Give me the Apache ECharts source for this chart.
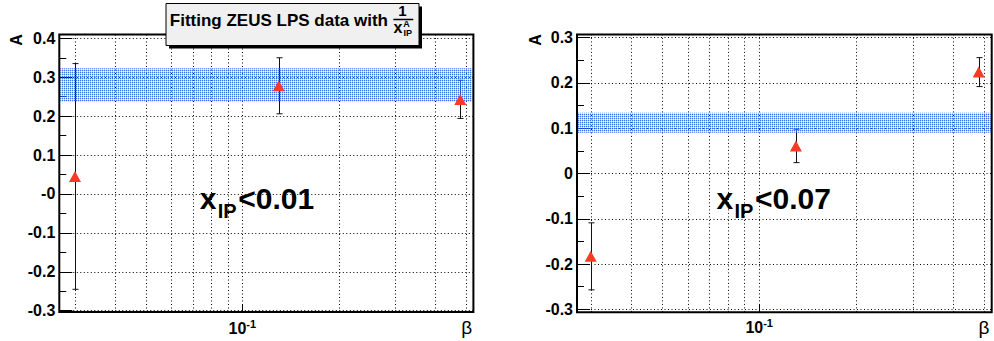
<!DOCTYPE html>
<html><head><meta charset="utf-8">
<script src="https://cdn.jsdelivr.net/npm/echarts@6/dist/echarts.min.js"></script>
<style>html,body{margin:0;padding:0;background:#fff}#c{width:994px;height:341px}</style>
</head><body><div id="c"></div>
<script>
// ---------- data ----------
const betaL = [0.03, 0.13, 0.48];
const aL    = [0.045, 0.278, 0.243];
const errL  = [0.29, 0.072, 0.049];
const bandL = [0.237, 0.323];

const betaR = [0.03, 0.13, 0.48];
const aR    = [-0.183, 0.061, 0.224];
const errR  = [0.074, 0.037, 0.032];
const bandR = [0.090, 0.134];

const gridBeta = [0.03, 0.04, 0.05, 0.06, 0.07, 0.08, 0.09, 0.1, 0.2, 0.3, 0.4, 0.5];
const yLabelsL = ['-0.3', '-0.2', '-0.1', '-0', '0.1', '0.2', '0.3', '0.4'];
const yLabelsR = ['-0.3', '-0.2', '-0.1', '0', '0.1', '0.2', '0.3'];
const noteL = '<0.01';
const noteR = '<0.07';
const titleText = 'Fitting ZEUS LPS data with';

// ---------- layout ----------
const FONT = "'Liberation Sans', Arial, Helvetica, sans-serif";
const panels = [
  { frame: {l: 59.3, r: 473.4, t: 34.5, b: 312},
    grid: {left: 59.3, top: 38.3, width: 414.1, height: 272.4},
    xmin: 0.0268, xmax: 0.5275, ymin: -0.3, ymax: 0.4, labels: yLabelsL,
    beta: betaL, a: aL, err: errL, band: bandL, note: noteL, dx: 0, ax: 16, bx: 466.7 },
  { frame: {l: 577, r: 991.7, t: 34.4, b: 312.3},
    grid: {left: 577, top: 37.7, width: 414.7, height: 271.6},
    xmin: 0.0272, xmax: 0.5267, ymin: -0.3, ymax: 0.3, labels: yLabelsR,
    beta: betaR, a: aR, err: errR, band: bandR, note: noteR, dx: 516.7, ax: 535, bx: 984 }
];

function makePattern() {
  const c = document.createElement('canvas');
  c.width = 4; c.height = 4;
  const g = c.getContext('2d');
  const D = 'rgba(40,100,232,0.9)', L = 'rgba(110,155,240,0.45)';
  const map = ['DLDL', 'L.L.', 'DLDL', 'L.L.'];
  for (let r = 0; r < 4; r++) for (let q = 0; q < 4; q++) {
    const ch = map[r][q];
    if (ch === '.') continue;
    g.fillStyle = ch === 'D' ? D : L;
    g.fillRect(q, r, 1, 1);
  }
  return c;
}
const patCanvas = makePattern();
const bandFill = { image: patCanvas, repeat: 'repeat', imageWidth: 4, imageHeight: 4 };

const chart = echarts.init(document.getElementById('c'), null, {renderer: 'svg'});

const grids = [], xAxes = [], yAxes = [], series = [], graphics = [];

panels.forEach((p, i) => {
  const f = p.frame;
  grids.push(Object.assign({containLabel: false}, p.grid));
  xAxes.push({
    type: 'log', logBase: 10, gridIndex: i, min: p.xmin, max: p.xmax,
    axisLine: {show: false}, axisTick: {show: false}, splitLine: {show: false},
    axisLabel: {
      showMinLabel: false, showMaxLabel: false, margin: 8,
      formatter: v => Math.abs(Math.log10(v) + 1) < 1e-6 ? '{b|10}{s|-1}' : '',
      rich: {
        b: {fontFamily: FONT, fontWeight: 'bold', fontSize: 16, color: '#000', lineHeight: 20},
        s: {fontFamily: FONT, fontWeight: 'bold', fontSize: 11, color: '#000', verticalAlign: 'top', lineHeight: 11}
      }
    }
  });
  yAxes.push({
    type: 'value', gridIndex: i, min: p.ymin, max: p.ymax, interval: 0.1,
    axisLine: {show: false},
    axisTick: {show: true, inside: true, length: 13, lineStyle: {color: '#000', width: 1}},
    minorTick: {show: true, splitNumber: 2, length: 7, lineStyle: {color: '#000', width: 1}},
    splitLine: {show: true, lineStyle: {color: '#000', width: 1, type: [1, 2.5]}},
    axisLabel: {
      margin: 4, color: '#000', fontFamily: FONT, fontWeight: 'bold', fontSize: 16,
      formatter: v => p.labels[Math.round(v * 10) + 3]
    }
  });

  // vertical dotted grid lines + major tick at 10^-1
  series.push({
    type: 'custom', xAxisIndex: i, yAxisIndex: i, z: 1, silent: true,
    data: gridBeta.map(v => [v, Math.abs(v - 0.1) < 1e-9 ? 1 : 0]),
    encode: {x: 0},
    renderItem: (params, api) => {
      const x = Math.round(api.coord([api.value(0), 0])[0]) + 0.5;
      const ch = [{type: 'line', shape: {x1: x, y1: f.t, x2: x, y2: f.b},
                   style: {stroke: '#000', lineWidth: 1, lineDash: [1, 2.5]}}];
      if (api.value(1) === 1) ch.push({type: 'line', shape: {x1: x, y1: f.b, x2: x, y2: f.b - 8},
                                        style: {stroke: '#000', lineWidth: 1}});
      return {type: 'group', children: ch};
    }
  });

  // error bars
  series.push({
    type: 'custom', xAxisIndex: i, yAxisIndex: i, z: 3, silent: true,
    data: p.beta.map((b, k) => [b, p.a[k], p.err[k]]),
    encode: {x: 0, y: 1},
    renderItem: (params, api) => {
      const xv = api.value(0), yv = api.value(1), e = api.value(2);
      const top = api.coord([xv, yv + e]), bot = api.coord([xv, yv - e]);
      const x = Math.round(top[0]) + 0.5;
      const s = {stroke: '#111', lineWidth: 1};
      return {type: 'group', children: [
        {type: 'line', shape: {x1: x, y1: top[1], x2: x, y2: bot[1]}, style: s},
        {type: 'line', shape: {x1: x - 3, y1: top[1], x2: x + 3, y2: top[1]}, style: s},
        {type: 'line', shape: {x1: x - 3, y1: bot[1], x2: x + 3, y2: bot[1]}, style: s}
      ]};
    }
  });

  // fit band
  series.push({
    type: 'custom', xAxisIndex: i, yAxisIndex: i, z: 4, silent: true,
    data: [[p.xmin, p.band[0], p.band[1]]],
    encode: {x: 0, y: 1},
    renderItem: (params, api) => {
      const cs = params.coordSys;
      const yHi = api.coord([p.xmin, api.value(2)])[1];
      const yLo = api.coord([p.xmin, api.value(1)])[1];
      return {type: 'rect', shape: {x: cs.x + 1, y: yHi, width: cs.width - 2, height: yLo - yHi},
              style: {fill: bandFill}};
    }
  });

  // markers
  series.push({
    type: 'scatter', xAxisIndex: i, yAxisIndex: i, z: 5, silent: true,
    symbol: 'triangle', symbolSize: [12, 11],
    itemStyle: {color: '#fb3a24', opacity: 1},
    data: p.beta.map((b, k) => [b, p.a[k]])
  });

  // frame
  graphics.push({type: 'rect', z: 100, silent: true,
    shape: {x: f.l, y: f.t, width: f.r - f.l, height: f.b - f.t},
    style: {fill: 'none', stroke: '#000', lineWidth: 2}});
  // y title
  graphics.push({type: 'text', z: 100, x: p.ax, y: 40, rotation: Math.PI / 2,
    style: {text: 'A', fontFamily: FONT, fontWeight: 'bold', fontSize: 16, fill: '#000', align: 'center', verticalAlign: 'middle'}});
  // x title
  graphics.push({type: 'text', z: 100, x: p.bx, y: 327,
    style: {text: 'β', fontFamily: FONT, fontSize: 19, fill: '#000', align: 'center', verticalAlign: 'middle'}});
  // annotation x_IP<...
  graphics.push({type: 'text', z: 100, x: 199.7 + p.dx, y: 209.3 - 0.3465 * 30,
    style: {text: 'x', fontFamily: FONT, fontWeight: 'bold', fontSize: 30, fill: '#000', align: 'left', verticalAlign: 'middle'}});
  graphics.push({type: 'text', z: 100, x: 217.8 + p.dx, y: 218.3 - 0.3465 * 20,
    style: {text: 'IP', fontFamily: FONT, fontWeight: 'bold', fontSize: 20, fill: '#000', align: 'left', verticalAlign: 'middle'}});
  graphics.push({type: 'text', z: 100, x: 238.3 + p.dx, y: 209.3 - 0.3465 * 30,
    style: {text: p.note, fontFamily: FONT, fontWeight: 'bold', fontSize: 30, fill: '#000', align: 'left', verticalAlign: 'middle'}});
});

// title box
graphics.push({type: 'rect', z: 110, silent: true, shape: {x: 169, y: 6.5, width: 253, height: 42}, style: {fill: '#000'}});
graphics.push({type: 'rect', z: 111, silent: true, shape: {x: 166, y: 3.5, width: 253, height: 42}, style: {fill: '#f0f0f0', stroke: '#000', lineWidth: 1}});
graphics.push({type: 'text', z: 112, x: 169.8, y: 26 - 0.3465 * 17,
  style: {text: titleText, fontFamily: FONT, fontWeight: 'bold', fontSize: 17, fill: '#000', align: 'left', verticalAlign: 'middle'}});
graphics.push({type: 'text', z: 112, x: 402.5, y: 16 - 0.3465 * 15,
  style: {text: '1', fontFamily: FONT, fontWeight: 'bold', fontSize: 15, fill: '#000', align: 'center', verticalAlign: 'middle'}});
graphics.push({type: 'line', z: 112, shape: {x1: 393.3, y1: 19.5, x2: 413.3, y2: 19.5}, style: {stroke: '#000', lineWidth: 1.5}});
graphics.push({type: 'text', z: 112, x: 393.5, y: 32.7 - 0.3465 * 16,
  style: {text: 'x', fontFamily: FONT, fontWeight: 'bold', fontSize: 16, fill: '#000', align: 'left', verticalAlign: 'middle'}});
graphics.push({type: 'text', z: 112, x: 403.3, y: 27.3 - 0.3465 * 9,
  style: {text: 'A', fontFamily: FONT, fontWeight: 'bold', fontSize: 9, fill: '#000', align: 'left', verticalAlign: 'middle'}});
graphics.push({type: 'text', z: 112, x: 403.5, y: 35.7 - 0.3465 * 9,
  style: {text: 'IP', fontFamily: FONT, fontWeight: 'bold', fontSize: 9, fill: '#000', align: 'left', verticalAlign: 'middle'}});

chart.setOption({
  animation: false,
  backgroundColor: '#fff',
  grid: grids, xAxis: xAxes, yAxis: yAxes, series: series, graphic: graphics
});
</script></body></html>
